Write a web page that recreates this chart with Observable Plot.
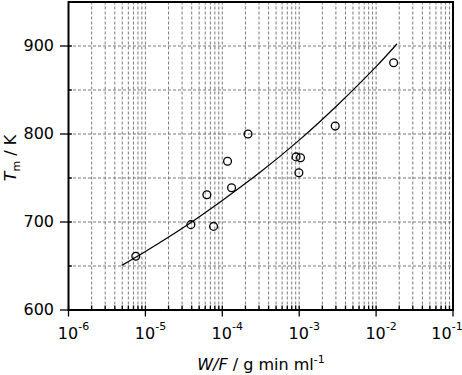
<!DOCTYPE html>
<html>
<head>
<meta charset="utf-8">
<script src="https://cdn.jsdelivr.net/npm/d3@7"></script>
<script src="https://cdn.jsdelivr.net/npm/@observablehq/plot@0.6"></script>
<style>
  html, body { margin: 0; padding: 0; background: #fff; }
</style>
</head>
<body>
<div id="chart"></div>
<script>
// Measured points: W/F (g min ml^-1) and Tm (K)
const wf = [7.5e-6, 3.9e-5, 6.3e-5, 7.7e-5, 1.17e-4, 1.32e-4, 2.16e-4, 9.1e-4, 1.04e-3, 9.9e-4, 2.94e-3, 1.69e-2];
const tm = [661, 697, 731, 695, 769, 739, 800, 774, 773, 756, 809, 881];

// Fitted curve
const fitWF = [5.0e-6, 1e-5, 3.16e-5, 1e-4, 3.16e-4, 1e-3, 3.16e-3, 1e-2, 1.85e-2];
const fitTm = [651, 666.5, 694, 724.5, 757, 793, 833, 876.5, 902];

// Axis ticks
const xMajor = [1e-6, 1e-5, 1e-4, 1e-3, 1e-2, 1e-1];
const xExponent = ["-6", "-5", "-4", "-3", "-2", "-1"];
const xMantissa = [2, 3, 4, 5, 6, 7, 8, 9];
const yMajor = [600, 700, 800, 900];
const yGrid = [650, 700, 750, 800, 850, 900];
const yInner = [600, 650, 700, 750, 800, 850, 900];

const FONT = "'DejaVu Sans', 'Liberation Sans', Arial, sans-serif";

const xMinor = [];
for (let i = 0; i < xMajor.length - 1; i++) for (const m of xMantissa) xMinor.push(m * xMajor[i]);
const xGrid = [...xMinor, ...xMajor.slice(1, -1)];
const xInner = [...xMinor, ...xMajor];

const points = wf.map((x, i) => ({x, y: tm[i]}));
const fit = fitWF.map((x, i) => ({x, y: fitTm[i]}));

const gridStyle = {stroke: "#7a7a7a", strokeOpacity: 1, strokeWidth: 1, strokeDasharray: "3,2"};

const plot = Plot.plot({
  width: 462,
  height: 375,
  marginLeft: 68,
  marginRight: 9.5,
  marginTop: 1.5,
  marginBottom: 65.5,
  style: {fontFamily: FONT, fontSize: "16px", color: "black", background: "white"},
  x: {type: "log", domain: [1e-6, 1e-1], axis: null},
  y: {domain: [600, 950], axis: null},
  marks: [
    Plot.gridX(xGrid, gridStyle),
    Plot.gridY(yGrid, gridStyle),
    Plot.axisX(xMajor, {anchor: "bottom", tickSize: 7, strokeWidth: 1.3, tickFormat: () => "", label: null}),
    Plot.axisX(xInner, {anchor: "bottom", tickSize: 4, dy: -4, strokeWidth: 1.3, tickFormat: () => "", label: null}),
    Plot.axisY(yMajor, {anchor: "left", tickSize: 8, tickPadding: 6.5, strokeWidth: 1.3, tickFormat: d => String(d), label: null, fontSize: 16}),
    Plot.axisY(yInner, {anchor: "left", tickSize: 4, dx: 4, strokeWidth: 1.3, tickFormat: () => "", label: null}),
    Plot.line(fit, {x: "x", y: "y", curve: "catmull-rom", stroke: "black", strokeWidth: 1.2}),
    Plot.dot(points, {x: "x", y: "y", r: 3.9, stroke: "black", strokeWidth: 1.3, fill: "none"}),
    Plot.frame({stroke: "black", strokeWidth: 2})
  ]
});

document.getElementById("chart").appendChild(plot);

const svg = d3.select(plot);
const xs = plot.scale("x");
const g = svg.append("g").attr("font-family", FONT).attr("fill", "black");

// x tick labels as 10^n (the last one is pulled in to stay inside the picture)
xMajor.forEach((v, i) => {
  const x = xs.apply(v) - (i === xMajor.length - 1 ? 11 : 0);
  g.append("text").attr("x", x).attr("y", 339).attr("text-anchor", "middle")
    .attr("font-size", 16).text("10");
  g.append("text").attr("x", x + 10.3).attr("y", 330).attr("text-anchor", "start")
    .attr("font-size", 11).text(xExponent[i]);
});

// x axis title
const xt = g.append("text").attr("x", 261).attr("y", 370).attr("text-anchor", "middle").attr("font-size", 16);
xt.append("tspan").attr("font-style", "italic").text("W/F");
xt.append("tspan").text(" / g min ml");
xt.append("tspan").attr("font-size", 11).attr("dy", -7).text("-1");

// y axis title
const yt = g.append("text").attr("transform", "translate(15.5,158) rotate(-90)")
  .attr("text-anchor", "middle").attr("font-size", 16);
yt.append("tspan").attr("font-style", "italic").text("T");
yt.append("tspan").attr("font-size", 11).attr("dy", 4).text("m");
yt.append("tspan").attr("dy", -4).text(" / K");
</script>
</body>
</html>
